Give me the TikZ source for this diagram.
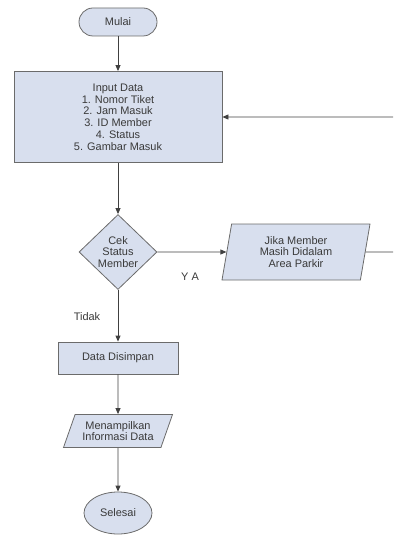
\documentclass[tikz,border=0pt]{standalone}
\usepackage{fontspec}
\setmainfont{Liberation Sans}
\usetikzlibrary{shapes.geometric,arrows.meta}
\definecolor{boxfill}{HTML}{D8DFEE}
\definecolor{boxline}{HTML}{6B6B6B}
\definecolor{darkline}{HTML}{404040}
\definecolor{txt}{HTML}{3A3A3A}

\begin{document}
\begin{tikzpicture}[x=1bp,y=-1bp,
    every node/.style={font=\fontsize{11}{11.8}\selectfont,text=txt},
    shapebase/.style={draw=boxline,fill=boxfill,align=center,inner sep=1pt,line width=0.8bp},
    terminal/.style={shapebase,rectangle,rounded corners=14bp,minimum width=78bp,minimum height=28bp},
    process/.style={shapebase,rectangle},
    decision/.style={shapebase,diamond,minimum width=78bp,minimum height=75bp,inner sep=0pt},
    io/.style={shapebase,trapezium,trapezium stretches body},
    flow/.style={draw=darkline,line width=0.8bp,-{Triangle[length=6bp,width=5bp]}}]
    \useasboundingbox (0,0) rectangle (393,542);
    \clip (0,0) rectangle (393,542);

    \node[terminal] (mulai) at (118,22) {Mulai};
    \node[process,minimum width=208bp,minimum height=91bp] (input) at (118,117)
      {Input Data\\1. Nomor Tiket\\2. Jam Masuk\\3. ID Member\\4. Status\\5. Gambar Masuk};
    \node[decision] (cek) at (118,252) {Cek\\Status\\Member};
    \node[io,trapezium left angle=74,trapezium right angle=106,minimum width=148bp,minimum height=56bp] (jika) at (296,252)
      {Jika Member\\Masih Didalam\\Area Parkir};
    \node[process,minimum width=120bp,minimum height=32bp] (simpan) at (118,358) {Data Disimpan};
    \node[io,trapezium left angle=62,trapezium right angle=118,minimum width=109bp,minimum height=33bp] (tampil) at (118,431)
      {Menampilkan\\Informasi Data};
    \node[shapebase,ellipse,minimum width=68bp,minimum height=42bp,inner sep=0pt] (selesai) at (118,513) {Selesai};

    \node (ya) at (190,277) {Y A};
    \node (tidak) at (87,317) {Tidak};

    \draw[flow] (mulai) -- (input);
    \draw[flow] (input) -- (cek);
    \draw[flow] (cek) -- (jika);
    \draw[flow] (jika.east) -- (396,252) |- (input.east);
    \draw[flow] (cek) -- (simpan);
    \draw[flow] (simpan) -- (tampil);
    \draw[flow] (tampil) -- (selesai);
  \end{tikzpicture}
\end{document}
